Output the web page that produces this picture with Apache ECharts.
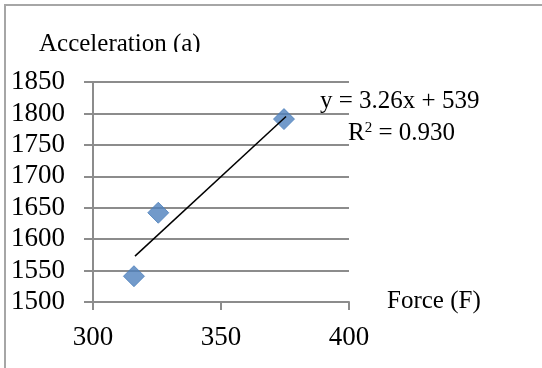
<!DOCTYPE html>
<html>
<head>
<meta charset="utf-8">
<script src="https://cdn.jsdelivr.net/npm/echarts@6/dist/echarts.min.js"></script>
<style>
  html, body { margin: 0; padding: 0; background: #fff; }
  #chart { width: 542px; height: 368px; }
</style>
</head>
<body>
<div id="chart"></div>
<script>
// data
var forceValues = [316, 325.5, 374.6]
var accelValues = [1541, 1642, 1791]
// trendline as drawn (ends)
var trendX = [316.4, 375.4]
var trendY = [1573, 1795]
var xTicks = [300, 350, 400]
var yTicks = [1500, 1550, 1600, 1650, 1700, 1750, 1800, 1850]

var points = forceValues.map(function(x, i) { return [x, accelValues[i]] })
var trend = trendX.map(function(x, i) { return [x, trendY[i]] })

var serif = '"Liberation Serif", "DejaVu Serif", serif'
var gray = '#8c8c8c'

var chart = echarts.init(document.getElementById('chart'))
chart.setOption({
  animation: false,
  backgroundColor: '#fff',
  grid: {
    left: 93,
    right: 193,
    top: 82,
    bottom: 66
  },
  xAxis: {
    type: 'value',
    min: xTicks[0],
    max: xTicks[xTicks.length - 1],
    interval: 50,
    axisLine: { show: true, lineStyle: { color: gray, width: 2 } },
    axisTick: { show: true, length: 8, lineStyle: { color: gray, width: 2 } },
    splitLine: { show: false },
    axisLabel: {
      margin: 22,
      color: '#000',
      fontFamily: serif,
      fontSize: 27,
      formatter: function(v) { return String(v) }
    }
  },
  yAxis: {
    type: 'value',
    min: yTicks[0],
    max: yTicks[yTicks.length - 1],
    interval: 50,
    axisLine: { show: true, lineStyle: { color: gray, width: 2 } },
    axisTick: { show: true, length: 9, lineStyle: { color: gray, width: 2 } },
    splitLine: { show: true, lineStyle: { color: gray, width: 2 } },
    axisLabel: {
      margin: 28,
      color: '#000',
      fontFamily: serif,
      fontSize: 27,
      formatter: function(v) { return String(v) }
    }
  },
  series: [
    {
      name: 'trend',
      type: 'line',
      data: trend,
      symbol: 'none',
      lineStyle: { color: '#000', width: 1.5 },
      z: 3
    },
    {
      name: 'data',
      type: 'scatter',
      data: points,
      symbol: 'diamond',
      symbolSize: 21,
      itemStyle: { color: '#4f81bd', borderColor: '#4a7ebb', borderWidth: 1 },
      z: 2
    }
  ],
  graphic: [
    {
      type: 'rect',
      shape: { x: 5, y: 5, width: 600, height: 400 },
      style: { fill: 'none', stroke: '#a6a6a6', lineWidth: 2 },
      silent: true
    },
    {
      type: 'text',
      left: 39,
      top: 32,
      style: { text: 'Acceleration (a)', fill: '#000', font: '25px ' + serif }
    },
    {
      // the title is clipped at the bottom in the original
      type: 'rect',
      shape: { x: 30, y: 52, width: 200, height: 12 },
      style: { fill: '#fff' },
      z: 100,
      silent: true
    },
    {
      type: 'text',
      left: 320,
      top: 89,
      style: { text: 'y = 3.26x + 539', fill: '#000', font: '25px ' + serif }
    },
    {
      type: 'text',
      left: 348,
      top: 121,
      style: {
        text: '{n|R}{s|2}{n| = 0.930}',
        fill: '#000',
        rich: {
          n: { fontFamily: serif, fontSize: 25, verticalAlign: 'bottom' },
          s: { fontFamily: serif, fontSize: 15, verticalAlign: 'top', padding: [0, 0, 10, 0] }
        }
      }
    },
    {
      type: 'text',
      left: 387,
      top: 289,
      style: { text: 'Force (F)', fill: '#000', font: '25px ' + serif }
    }
  ]
})
</script>
</body>
</html>
